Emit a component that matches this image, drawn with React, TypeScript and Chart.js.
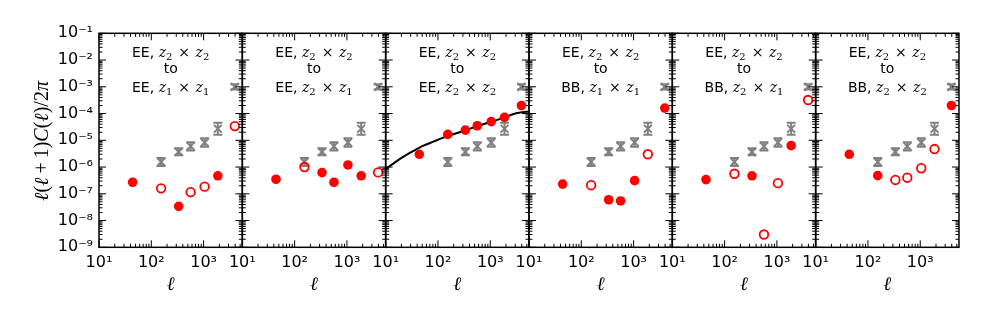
import React, { useEffect, useRef } from 'react';
import { Chart, registerables } from 'chart.js';

Chart.register(...registerables);

const W = 981;
const H = 327;
const PANEL_L = 99;
const PANEL_W = 143.33;
const PLOT_T = 33.3;
const PLOT_B = 247.3;
const X_MIN = 10;
const X_MAX = 5500;

// multipole bin centres
const ellBins = [44, 154, 334, 565, 1045, 1872, 3946];

// grey noise level (same in all panels)
const noiseEll = [154, 334, 565, 1045, 1872, 3946];
const noiseVal = [1.55e-6, 3.7e-6, 6.0e-6, 8.3e-6, 2.7e-5, 1.0e-3];
const noiseLow = [1.1e-6, 2.75e-6, 4.2e-6, 5.8e-6, 1.6e-5, 8.0e-4];
const noiseHigh = [2.2e-6, 5.0e-6, 8.5e-6, 1.2e-5, 4.5e-5, 1.25e-3];

// red leakage values per panel (1 = filled / positive, 0 = open / negative)
const panel1Val = [2.7e-7, 1.6e-7, 3.4e-8, 1.15e-7, 1.85e-7, 4.7e-7, 3.4e-5];
const panel1Filled = [1, 0, 1, 0, 0, 1, 0];
const panel2Val = [3.5e-7, 1.0e-6, 6.2e-7, 2.7e-7, 1.2e-6, 4.7e-7, 6.3e-7];
const panel2Filled = [1, 0, 1, 1, 1, 1, 0];
const panel3Val = [3.0e-6, 1.66e-5, 2.4e-5, 3.5e-5, 5.0e-5, 7.2e-5, 2.0e-4];
const panel3Filled = [1, 1, 1, 1, 1, 1, 1];
const panel4Val = [2.3e-7, 2.1e-7, 6.0e-8, 5.4e-8, 3.1e-7, 3.0e-6, 1.6e-4];
const panel4Filled = [1, 0, 1, 1, 1, 0, 1];
const panel5Val = [3.4e-7, 5.6e-7, 4.7e-7, 3.0e-9, 2.5e-7, 6.3e-6, 3.2e-4];
const panel5Filled = [1, 0, 1, 0, 0, 1, 0];
const panel6Val = [3.0e-6, 4.8e-7, 3.3e-7, 4.0e-7, 9.0e-7, 4.7e-6, 2.0e-4];
const panel6Filled = [1, 1, 0, 0, 0, 0, 1];

// theory curve (panel 3)
const curveEll = [10, 14.2, 22, 34, 53, 82, 127, 306, 736, 1770, 3130, 5070, 5500];
const curveVal = [8.5e-7, 1.38e-6, 2.45e-6, 4.0e-6, 6.3e-6, 8.9e-6, 1.26e-5, 2.24e-5, 4.0e-5, 6.9e-5, 1.02e-4, 1.17e-4, 1.18e-4];

// ticks
const xTickVals = [10, 100, 1000];
const xTickLabels = ['10¹', '10²', '10³'];
const yTickVals = [1e-9, 1e-8, 1e-7, 1e-6, 1e-5, 1e-4, 1e-3, 1e-2, 1e-1];
const yTickLabels = ['10⁻⁹', '10⁻⁸', '10⁻⁷', '10⁻⁶', '10⁻⁵', '10⁻⁴', '10⁻³', '10⁻²', '10⁻¹'];

// panel annotations
const sourceSpec = ['EE', 'EE', 'EE', 'EE', 'EE', 'EE'];
const sourceZa = ['2', '2', '2', '2', '2', '2'];
const sourceZb = ['2', '2', '2', '2', '2', '2'];
const targetSpec = ['EE', 'EE', 'EE', 'BB', 'BB', 'BB'];
const targetZa = ['1', '2', '2', '1', '2', '2'];
const targetZb = ['1', '1', '2', '1', '1', '2'];
const middleWord = 'to';
const xTitle = 'ℓ';

const panelVals = [panel1Val, panel2Val, panel3Val, panel4Val, panel5Val, panel6Val];
const panelFilled = [panel1Filled, panel2Filled, panel3Filled, panel4Filled, panel5Filled, panel6Filled];

type Run = { t: string; font: string; dy?: number; gap?: number };

function drawRuns(ctx: CanvasRenderingContext2D, runs: Run[], cx: number, baseline: number) {
  let total = 0;
  const widths: number[] = [];
  for (const r of runs) {
    ctx.font = r.font;
    const w = ctx.measureText(r.t).width;
    widths.push(w);
    total += (r.gap || 0) + w;
  }
  let x = cx - total / 2;
  ctx.textAlign = 'left';
  ctx.textBaseline = 'alphabetic';
  runs.forEach((r, k) => {
    x += r.gap || 0;
    ctx.font = r.font;
    ctx.fillText(r.t, x, baseline + (r.dy || 0));
    x += widths[k];
  });
}

const SANS = '14px "DejaVu Sans"';
const MATH_IT = 'italic 14px "DejaVu Serif"';
const MATH_SUB = '10px "DejaVu Serif"';

function specRuns(spec: string, a: string, b: string): Run[] {
  return [
    { t: spec + ',', font: SANS },
    { t: 'z', font: MATH_IT, gap: 4.5 },
    { t: a, font: MATH_SUB, dy: 3 },
    { t: '×', font: SANS, gap: 6 },
    { t: 'z', font: MATH_IT, gap: 5.5 },
    { t: b, font: MATH_SUB, dy: 3 },
  ];
}

const YF = 20;
const yTitleRuns: Run[] = [
  { t: 'ℓ', font: `italic ${YF}px "Liberation Serif"` },
  { t: '(', font: `${YF}px "Liberation Serif"` },
  { t: 'ℓ', font: `italic ${YF}px "Liberation Serif"` },
  { t: '+', font: `${YF}px "Liberation Serif"`, gap: 4 },
  { t: '1', font: `${YF}px "Liberation Serif"`, gap: 4 },
  { t: ')', font: `${YF}px "Liberation Serif"` },
  { t: 'C', font: `italic ${YF}px "Liberation Serif"` },
  { t: '(', font: `${YF}px "Liberation Serif"` },
  { t: 'ℓ', font: `italic ${YF}px "Liberation Serif"` },
  { t: ')', font: `${YF}px "Liberation Serif"` },
  { t: '/', font: `${YF}px "Liberation Serif"` },
  { t: '2', font: `${YF}px "Liberation Serif"` },
  { t: 'π', font: `italic ${YF}px "Liberation Serif"` },
];

function makePlugin(i: number) {
  return {
    id: 'panelDeco' + i,
    beforeDatasetsDraw(chart: any) {
      const { ctx } = chart;
      const ys = chart.scales.y;
      const xs = chart.scales.x;
      ctx.save();
      ctx.strokeStyle = '#808080';
      ctx.lineWidth = 2;
      noiseEll.forEach((e, k) => {
        const px = xs.getPixelForValue(e);
        const lo = ys.getPixelForValue(noiseLow[k]);
        const hi = ys.getPixelForValue(noiseHigh[k]);
        ctx.beginPath();
        ctx.moveTo(px, lo);
        ctx.lineTo(px, hi);
        ctx.moveTo(px - 4.5, lo);
        ctx.lineTo(px + 4.5, lo);
        ctx.moveTo(px - 4.5, hi);
        ctx.lineTo(px + 4.5, hi);
        ctx.stroke();
      });
      ctx.restore();
    },
    afterDraw(chart: any) {
      const { ctx, chartArea: a } = chart;
      const xs = chart.scales.x;
      const ys = chart.scales.y;
      ctx.save();
      ctx.strokeStyle = '#000';
      ctx.lineWidth = 1;
      ctx.beginPath();
      for (let d = 10; d <= 10000; d *= 10) {
        for (let m = 1; m <= 9; m++) {
          const v = d * m;
          if (v < X_MIN || v > X_MAX) continue;
          const px = xs.getPixelForValue(v);
          const len = m === 1 ? 7 : 3.5;
          ctx.moveTo(px, a.bottom);
          ctx.lineTo(px, a.bottom - len);
          ctx.moveTo(px, a.top);
          ctx.lineTo(px, a.top + len);
        }
      }
      for (let d = 1e-9; d <= 0.11; d *= 10) {
        for (let m = 1; m <= 9; m++) {
          const v = d * m;
          if (v > 0.1001) continue;
          const py = ys.getPixelForValue(v);
          const len = m === 1 ? 7 : 3.5;
          ctx.moveTo(a.left, py);
          ctx.lineTo(a.left + len, py);
          ctx.moveTo(a.right, py);
          ctx.lineTo(a.right - len, py);
        }
      }
      ctx.stroke();
      ctx.lineWidth = 1.5;
      ctx.strokeRect(a.left, a.top, a.right - a.left, a.bottom - a.top);

      // annotation text
      ctx.fillStyle = '#000';
      const cx = (a.left + a.right) / 2;
      drawRuns(ctx, specRuns(sourceSpec[i], sourceZa[i], sourceZb[i]), cx, 56.5);
      drawRuns(ctx, [{ t: middleWord, font: SANS }], cx, 73.3);
      drawRuns(ctx, specRuns(targetSpec[i], targetZa[i], targetZb[i]), cx, 92.3);

      if (i === 0) {
        ctx.save();
        ctx.translate(48, 141);
        ctx.rotate(-Math.PI / 2);
        drawRuns(ctx, yTitleRuns, 0, 0);
        ctx.restore();
      }
      ctx.restore();
    },
  };
}

function makeConfig(i: number): any {
  const left = PANEL_L + i * PANEL_W;
  const right = left + PANEL_W;
  const vals = panelVals[i];
  const fill = panelFilled[i];
  const filledPts: any[] = [];
  const openPts: any[] = [];
  ellBins.forEach((e, k) => {
    (fill[k] ? filledPts : openPts).push({ x: e, y: vals[k] });
  });
  const datasets: any[] = [
    {
      label: 'filled',
      data: filledPts,
      pointStyle: 'circle',
      pointRadius: 4.8,
      pointBackgroundColor: '#ff0000',
      pointBorderColor: '#ff0000',
      pointBorderWidth: 0,
      order: 0,
    },
    {
      label: 'open',
      data: openPts,
      pointStyle: 'circle',
      pointRadius: 4.3,
      pointBackgroundColor: 'rgba(0,0,0,0)',
      pointBorderColor: '#ff0000',
      pointBorderWidth: 1.8,
      order: 1,
    },
    {
      label: 'noise',
      data: noiseEll.map((e, k) => ({ x: e, y: noiseVal[k] })),
      pointStyle: 'crossRot',
      pointRadius: 5.5,
      pointBorderColor: '#808080',
      pointBorderWidth: 2,
      order: 2,
    },
  ];
  if (i === 2) {
    datasets.push({
      label: 'theory',
      data: curveEll.map((e, k) => ({ x: e, y: curveVal[k] })),
      showLine: true,
      pointRadius: 0,
      borderColor: '#000',
      borderWidth: 2,
      cubicInterpolationMode: 'monotone',
      order: 3,
    });
  }
  return {
    type: 'scatter',
    data: { datasets },
    options: {
      animation: false,
      responsive: false,
      devicePixelRatio: 1,
      events: [],
      layout: {
        padding: { left: i === 0 ? 0 : left, right: W - right, top: PLOT_T, bottom: 0 },
      },
      plugins: { legend: { display: false }, tooltip: { enabled: false } },
      scales: {
        x: {
          type: 'logarithmic',
          position: 'bottom',
          min: X_MIN,
          max: X_MAX,
          afterBuildTicks: (s: any) => {
            s.ticks = xTickVals.map((v) => ({ value: v }));
          },
          afterFit: (s: any) => {
            s.height = H - PLOT_B;
          },
          grid: { display: false, drawTicks: false },
          border: { display: false },
          ticks: {
            autoSkip: false,
            maxRotation: 0,
            minRotation: 0,
            padding: 6,
            color: '#000',
            font: { family: 'DejaVu Sans', size: 16 },
            callback: (_v: any, idx: number) => xTickLabels[idx],
          },
          title: {
            display: true,
            text: xTitle,
            color: '#000',
            font: { family: 'Liberation Serif', size: 19, style: 'italic' },
            padding: { top: 0, bottom: 30.6 },
          },
        },
        y: {
          type: 'logarithmic',
          position: 'left',
          display: i === 0,
          min: 1e-9,
          max: 1e-1,
          afterBuildTicks: (s: any) => {
            s.ticks = yTickVals.map((v) => ({ value: v }));
          },
          afterFit: (s: any) => {
            s.width = i === 0 ? PANEL_L : 0;
          },
          grid: { display: false, drawTicks: false },
          border: { display: false },
          ticks: {
            autoSkip: false,
            padding: 6,
            color: '#000',
            font: { family: 'DejaVu Sans', size: 16 },
            callback: (_v: any, idx: number) => yTickLabels[idx],
          },
        },
      },
    },
    plugins: [makePlugin(i)],
  };
}

function Panel({ index }: { index: number }) {
  const ref = useRef<HTMLCanvasElement | null>(null);
  useEffect(() => {
    if (!ref.current) return;
    const chart = new Chart(ref.current, makeConfig(index));
    return () => chart.destroy();
  }, [index]);
  return (
    <canvas
      ref={ref}
      width={W}
      height={H}
      style={{ position: 'absolute', left: 0, top: 0, width: W, height: H, pointerEvents: 'none' }}
    />
  );
}

export default function App() {
  return (
    <div style={{ position: 'absolute', left: 0, top: 0, width: W, height: H, background: '#fff' }}>
      {[0, 1, 2, 3, 4, 5].map((i) => (
        <Panel key={i} index={i} />
      ))}
    </div>
  );
}
